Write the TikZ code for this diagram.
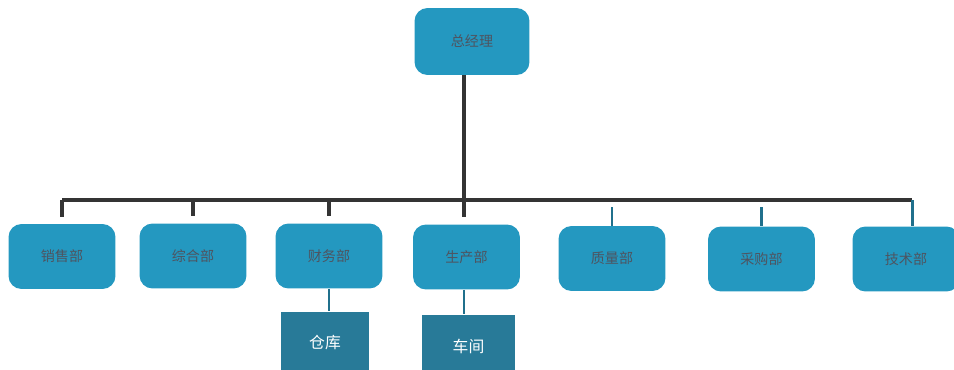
\documentclass[tikz,border=0pt]{standalone}
\usepackage{fontspec}
\setmainfont{Noto Sans CJK SC}
\usetikzlibrary{positioning}
\definecolor{deptblue}{RGB}{36,152,192}
\definecolor{subblue}{RGB}{40,122,152}
\definecolor{barcol}{RGB}{52,52,52}
\definecolor{tealline}{RGB}{32,112,140}
\definecolor{labelgray}{RGB}{78,84,96}

\begin{document}
\begin{tikzpicture}
  [x=0.02cm,y=-0.02cm,
  every node/.style={font=\fontsize{8}{9}\selectfont},
  dept/.style={draw=none,fill=deptblue,rounded corners=2.6mm,text=labelgray,
    minimum width=2.14cm,minimum height=1.3cm,inner sep=0pt},
  boss/.style={dept,minimum width=2.3cm,minimum height=1.34cm},
  sub/.style={draw=none,fill=subblue,text=white,minimum height=1.25cm,inner sep=0pt,
    font=\fontsize{9}{10}\selectfont},
  bar/.style={draw=barcol,line width=2.3pt},
  tie/.style={draw=tealline,line width=1.7pt}]
  \useasboundingbox (0,0) rectangle (954,369);
  % top
  \node [boss] (gm) at (472,41.5) {总经理};
  % departments
  \node [dept] (sales) at (62,256.5) {销售部};
  \node [dept] (admin) at (193,256) {综合部};
  \node [dept] (fin) at (329,256) {财务部};
  \node [dept] (prod) at (466.5,257) {生产部};
  \node [dept] (qual) at (612,258.5) {质量部};
  \node [dept] (purch) at (761.5,259) {采购部};
  \node [dept] (tech) at (906,259) {技术部};
  % sub units
  \node [sub,minimum width=1.76cm] (store) at (325,343) {仓库};
  \node [sub,minimum width=1.86cm] (shop) at (468.5,346) {车间};
  % bus
  \coordinate (busL) at (62,200);
  \coordinate (busR) at (912,200);
  \coordinate (trunk) at (464,200);
  \draw [bar] (busL) -- (busR);
  \draw [bar] (trunk) -- (trunk |- gm.south);
  \draw [bar,line cap=butt,shorten >=1.4mm] (busL) -- (sales.north -| busL);
  \draw [bar,shorten >=1.4mm] (admin.north |- busL) -- (admin.north);
  \draw [bar,shorten >=1.4mm] (fin.north |- busL) -- (fin.north);
  \draw [bar,shorten >=1.4mm] (trunk) -- (prod.north -| trunk);
  \draw [tie,shorten <=1.4mm] (qual.north |- busL) -- (qual.north);
  \draw [tie,shorten <=1.4mm] (purch.north |- busL) -- (purch.north);
  \draw [tie] (busR) -- (tech.north -| busR);
  \draw [tie] (fin.south) -- (store.north -| fin.south);
  \draw [tie] (prod.south -| trunk) -- (shop.north -| trunk);
\end{tikzpicture}
\end{document}
